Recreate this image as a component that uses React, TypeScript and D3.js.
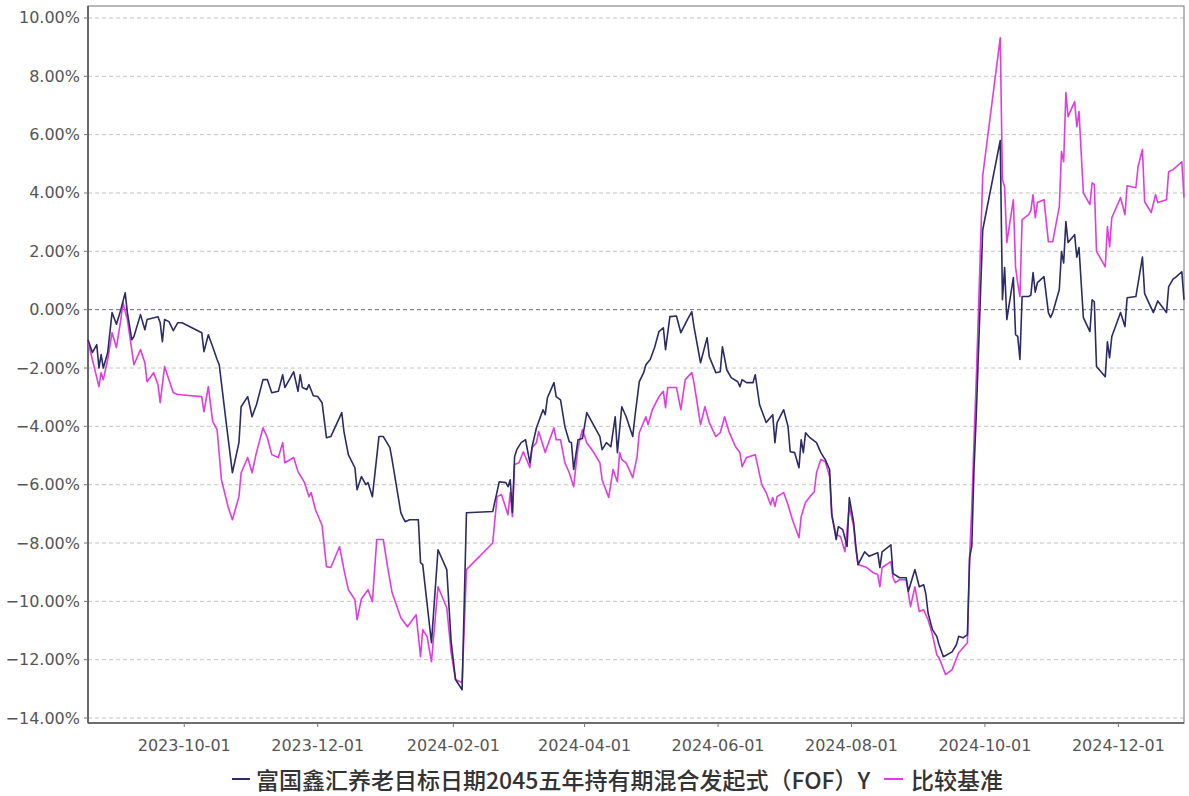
import React, { useEffect } from "react";
import * as d3 from "d3";

// ---------- DATA ----------
const seriesNames = ["富国鑫汇养老目标日期2045五年持有期混合发起式（FOF）Y", "比较基准"];
const seriesColors = ["#2b2b66", "#e03ce0"];

const fundSeries: [string, number][] = [
  ["2023-08-18", -1.03], ["2023-08-20", -1.47], ["2023-08-22", -1.2], ["2023-08-23", -2.0],
  ["2023-08-24", -1.54], ["2023-08-25", -2.0], ["2023-08-27", -1.47], ["2023-08-29", -0.1],
  ["2023-08-31", -0.5], ["2023-09-02", 0.0], ["2023-09-04", 0.58], ["2023-09-05", -0.1],
  ["2023-09-07", -1.03], ["2023-09-08", -0.92], ["2023-09-11", -0.17], ["2023-09-13", -0.69],
  ["2023-09-14", -0.34], ["2023-09-19", -0.24], ["2023-09-20", -0.45], ["2023-09-21", -1.1],
  ["2023-09-22", -0.34], ["2023-09-24", -0.41], ["2023-09-26", -0.72], ["2023-09-28", -0.45],
  ["2023-09-30", -0.45], ["2023-10-09", -0.79], ["2023-10-10", -1.44], ["2023-10-12", -0.86],
  ["2023-10-14", -1.27], ["2023-10-16", -1.71], ["2023-10-17", -1.89], ["2023-10-20", -3.77],
  ["2023-10-23", -5.59], ["2023-10-26", -4.56], ["2023-10-27", -3.33], ["2023-10-30", -2.98],
  ["2023-11-01", -3.67], ["2023-11-03", -3.26], ["2023-11-06", -2.4], ["2023-11-08", -2.4],
  ["2023-11-10", -2.85], ["2023-11-13", -2.8], ["2023-11-15", -2.23], ["2023-11-16", -2.67],
  ["2023-11-20", -2.13], ["2023-11-22", -2.8], ["2023-11-23", -2.23], ["2023-11-24", -2.67],
  ["2023-11-26", -2.74], ["2023-11-27", -2.57], ["2023-11-29", -2.95], ["2023-12-01", -2.98],
  ["2023-12-03", -3.19], ["2023-12-05", -4.39], ["2023-12-07", -4.35], ["2023-12-12", -3.53],
  ["2023-12-13", -4.18], ["2023-12-15", -4.97], ["2023-12-18", -5.42], ["2023-12-19", -6.17],
  ["2023-12-21", -5.72], ["2023-12-23", -6.0], ["2023-12-24", -5.93], ["2023-12-26", -6.41],
  ["2023-12-29", -4.35], ["2023-12-31", -4.35], ["2024-01-03", -4.73], ["2024-01-04", -5.14],
  ["2024-01-08", -6.96], ["2024-01-09", -7.13], ["2024-01-10", -7.27], ["2024-01-12", -7.2],
  ["2024-01-16", -7.2], ["2024-01-17", -8.67], ["2024-01-18", -8.74], ["2024-01-22", -11.42],
  ["2024-01-25", -8.23], ["2024-01-29", -8.91], ["2024-01-31", -11.38], ["2024-02-02", -12.68],
  ["2024-02-05", -13.03], ["2024-02-07", -6.96], ["2024-02-19", -6.92], ["2024-02-21", -6.24],
  ["2024-02-22", -5.9], ["2024-02-25", -5.93], ["2024-02-26", -6.07], ["2024-02-27", -5.83],
  ["2024-02-28", -6.96], ["2024-02-29", -5.04], ["2024-03-01", -4.8], ["2024-03-03", -4.56],
  ["2024-03-05", -4.46], ["2024-03-07", -5.25], ["2024-03-08", -4.7], ["2024-03-10", -4.05],
  ["2024-03-13", -3.43], ["2024-03-14", -3.6], ["2024-03-15", -3.02], ["2024-03-18", -2.5],
  ["2024-03-19", -2.98], ["2024-03-21", -3.09], ["2024-03-23", -4.01], ["2024-03-25", -4.53],
  ["2024-03-26", -4.56], ["2024-03-27", -5.48], ["2024-03-29", -4.46], ["2024-03-31", -4.42],
  ["2024-04-02", -3.53], ["2024-04-03", -3.67], ["2024-04-08", -4.35], ["2024-04-09", -4.8],
  ["2024-04-11", -4.56], ["2024-04-13", -4.7], ["2024-04-15", -3.67], ["2024-04-16", -4.9],
  ["2024-04-18", -3.33], ["2024-04-20", -3.67], ["2024-04-23", -4.35], ["2024-04-24", -3.67],
  ["2024-04-26", -2.47], ["2024-04-28", -2.16], ["2024-04-29", -1.89], ["2024-05-01", -1.71],
  ["2024-05-03", -1.3], ["2024-05-05", -0.75], ["2024-05-07", -0.62], ["2024-05-08", -1.37],
  ["2024-05-10", -0.24], ["2024-05-13", -0.22], ["2024-05-15", -0.79], ["2024-05-18", -0.34],
  ["2024-05-20", -0.07], ["2024-05-21", -0.58], ["2024-05-24", -1.82], ["2024-05-27", -0.96],
  ["2024-05-28", -1.61], ["2024-05-31", -2.16], ["2024-06-02", -2.13], ["2024-06-03", -1.27],
  ["2024-06-05", -2.06], ["2024-06-07", -2.33], ["2024-06-10", -2.47], ["2024-06-11", -2.64],
  ["2024-06-12", -2.4], ["2024-06-14", -2.5], ["2024-06-17", -2.5], ["2024-06-18", -2.23],
  ["2024-06-20", -3.26], ["2024-06-23", -3.87], ["2024-06-26", -3.6], ["2024-06-27", -4.56],
  ["2024-06-28", -3.87], ["2024-07-01", -3.43], ["2024-07-03", -4.01], ["2024-07-04", -4.87],
  ["2024-07-06", -4.9], ["2024-07-08", -5.42], ["2024-07-09", -4.46], ["2024-07-10", -4.9],
  ["2024-07-11", -4.22], ["2024-07-13", -4.39], ["2024-07-16", -4.56], ["2024-07-18", -4.9],
  ["2024-07-20", -5.14], ["2024-07-22", -5.48], ["2024-07-23", -7.0], ["2024-07-25", -7.88],
  ["2024-07-26", -7.44], ["2024-07-28", -7.54], ["2024-07-30", -8.12], ["2024-07-31", -6.44],
  ["2024-08-02", -7.3], ["2024-08-03", -8.12], ["2024-08-04", -8.74], ["2024-08-07", -8.3],
  ["2024-08-09", -8.45], ["2024-08-13", -8.33], ["2024-08-14", -8.84], ["2024-08-15", -8.3],
  ["2024-08-19", -8.06], ["2024-08-20", -9.05], ["2024-08-23", -9.19], ["2024-08-26", -9.19],
  ["2024-08-27", -9.65], ["2024-08-30", -8.91], ["2024-09-01", -9.5], ["2024-09-03", -9.43],
  ["2024-09-04", -9.75], ["2024-09-05", -10.4], ["2024-09-07", -10.97], ["2024-09-09", -11.2],
  ["2024-09-10", -11.48], ["2024-09-12", -11.9], ["2024-09-16", -11.73], ["2024-09-18", -11.48],
  ["2024-09-19", -11.2], ["2024-09-21", -11.25], ["2024-09-23", -11.14], ["2024-09-24", -8.5],
  ["2024-09-25", -8.1], ["2024-09-26", -5.5], ["2024-09-27", -3.7], ["2024-09-30", 2.74],
  ["2024-10-08", 5.8], ["2024-10-09", 0.34], ["2024-10-10", 1.44], ["2024-10-11", -0.34],
  ["2024-10-14", 1.1], ["2024-10-15", -0.86], ["2024-10-16", -0.92], ["2024-10-17", -1.71],
  ["2024-10-18", 0.45], ["2024-10-21", 0.45], ["2024-10-22", 0.5], ["2024-10-23", 1.27],
  ["2024-10-24", 0.6], ["2024-10-25", 0.93], ["2024-10-28", 1.13], ["2024-10-30", -0.1],
  ["2024-10-31", -0.27], ["2024-11-01", -0.1], ["2024-11-04", 0.69], ["2024-11-05", 1.99],
  ["2024-11-06", 1.6], ["2024-11-07", 3.02], ["2024-11-08", 2.3], ["2024-11-11", 2.57],
  ["2024-11-12", 1.8], ["2024-11-13", 2.13], ["2024-11-15", -0.27], ["2024-11-18", -0.75],
  ["2024-11-19", 0.34], ["2024-11-20", 0.27], ["2024-11-21", -1.95], ["2024-11-25", -2.3],
  ["2024-11-26", -1.1], ["2024-11-27", -1.65], ["2024-11-28", -0.92], ["2024-12-02", -0.1],
  ["2024-12-04", -0.58], ["2024-12-05", 0.41], ["2024-12-09", 0.45], ["2024-12-12", 1.8],
  ["2024-12-13", 0.55], ["2024-12-17", -0.1], ["2024-12-19", 0.3], ["2024-12-23", -0.1],
  ["2024-12-24", 0.79], ["2024-12-26", 1.05], ["2024-12-27", 1.1], ["2024-12-30", 1.3],
  ["2024-12-31", 0.34],
];

const benchSeries: [string, number][] = [
  ["2023-08-18", -1.1], ["2023-08-20", -1.71], ["2023-08-23", -2.64], ["2023-08-24", -2.16],
  ["2023-08-25", -2.4], ["2023-08-27", -1.71], ["2023-08-29", -0.79], ["2023-08-31", -1.3],
  ["2023-09-02", -0.34], ["2023-09-03", 0.24], ["2023-09-05", -0.34], ["2023-09-07", -1.37],
  ["2023-09-08", -1.89], ["2023-09-11", -1.37], ["2023-09-13", -1.82], ["2023-09-14", -2.47],
  ["2023-09-17", -2.16], ["2023-09-19", -2.57], ["2023-09-20", -3.19], ["2023-09-22", -1.95],
  ["2023-09-24", -2.4], ["2023-09-26", -2.85], ["2023-09-28", -2.91], ["2023-10-09", -2.98],
  ["2023-10-10", -3.5], ["2023-10-12", -2.64], ["2023-10-14", -3.84], ["2023-10-16", -4.11],
  ["2023-10-18", -5.83], ["2023-10-21", -6.75], ["2023-10-23", -7.2], ["2023-10-26", -6.41],
  ["2023-10-27", -5.59], ["2023-10-30", -5.07], ["2023-11-01", -5.59], ["2023-11-03", -4.9],
  ["2023-11-06", -4.05], ["2023-11-08", -4.39], ["2023-11-10", -4.97], ["2023-11-13", -5.07],
  ["2023-11-15", -4.56], ["2023-11-16", -5.25], ["2023-11-20", -5.07], ["2023-11-22", -5.55],
  ["2023-11-25", -5.93], ["2023-11-27", -6.41], ["2023-11-28", -6.27], ["2023-11-30", -6.86],
  ["2023-12-03", -7.4], ["2023-12-05", -8.81], ["2023-12-07", -8.84], ["2023-12-11", -8.12],
  ["2023-12-13", -8.91], ["2023-12-15", -9.6], ["2023-12-18", -9.94], ["2023-12-19", -10.63],
  ["2023-12-21", -9.91], ["2023-12-24", -9.6], ["2023-12-26", -10.01], ["2023-12-28", -7.88],
  ["2023-12-31", -7.88], ["2024-01-02", -8.84], ["2024-01-04", -9.7], ["2024-01-08", -10.56],
  ["2024-01-11", -10.87], ["2024-01-15", -10.46], ["2024-01-17", -11.9], ["2024-01-18", -10.97],
  ["2024-01-20", -11.21], ["2024-01-22", -12.07], ["2024-01-25", -9.5], ["2024-01-29", -10.22],
  ["2024-01-31", -11.76], ["2024-02-02", -12.68], ["2024-02-05", -12.79], ["2024-02-07", -8.91],
  ["2024-02-19", -8.0], ["2024-02-21", -6.41], ["2024-02-23", -6.34], ["2024-02-26", -7.03],
  ["2024-02-27", -6.27], ["2024-02-28", -7.1], ["2024-02-29", -5.31], ["2024-03-02", -5.25],
  ["2024-03-04", -4.87], ["2024-03-07", -5.42], ["2024-03-08", -4.73], ["2024-03-10", -4.56],
  ["2024-03-11", -4.18], ["2024-03-14", -4.9], ["2024-03-16", -4.46], ["2024-03-18", -4.05],
  ["2024-03-19", -4.46], ["2024-03-21", -4.46], ["2024-03-23", -5.25], ["2024-03-25", -5.59],
  ["2024-03-27", -6.07], ["2024-03-28", -5.38], ["2024-03-29", -4.73], ["2024-03-31", -4.11],
  ["2024-04-02", -4.56], ["2024-04-05", -4.87], ["2024-04-08", -5.25], ["2024-04-09", -5.83],
  ["2024-04-12", -6.44], ["2024-04-14", -5.48], ["2024-04-16", -5.9], ["2024-04-17", -4.9],
  ["2024-04-18", -5.14], ["2024-04-20", -5.25], ["2024-04-23", -5.76], ["2024-04-25", -5.04],
  ["2024-04-26", -4.22], ["2024-04-29", -3.67], ["2024-04-30", -3.94], ["2024-05-02", -3.43],
  ["2024-05-05", -2.98], ["2024-05-07", -2.8], ["2024-05-08", -3.36], ["2024-05-09", -2.67],
  ["2024-05-13", -2.67], ["2024-05-15", -3.43], ["2024-05-17", -2.4], ["2024-05-20", -2.16],
  ["2024-05-21", -2.5], ["2024-05-24", -3.94], ["2024-05-26", -3.33], ["2024-05-28", -3.87],
  ["2024-05-31", -4.35], ["2024-06-02", -4.22], ["2024-06-04", -3.67], ["2024-06-06", -4.18],
  ["2024-06-09", -4.7], ["2024-06-11", -4.9], ["2024-06-12", -5.38], ["2024-06-14", -5.07],
  ["2024-06-18", -4.97], ["2024-06-21", -6.0], ["2024-06-23", -6.27], ["2024-06-25", -6.69],
  ["2024-06-26", -6.44], ["2024-06-27", -6.75], ["2024-06-28", -6.41], ["2024-07-01", -6.27],
  ["2024-07-03", -6.69], ["2024-07-05", -7.2], ["2024-07-08", -7.82], ["2024-07-09", -7.1],
  ["2024-07-11", -6.6], ["2024-07-13", -6.41], ["2024-07-15", -6.24], ["2024-07-16", -5.59],
  ["2024-07-18", -5.14], ["2024-07-20", -5.21], ["2024-07-22", -5.72], ["2024-07-23", -7.1],
  ["2024-07-25", -7.71], ["2024-07-27", -7.78], ["2024-07-29", -8.3], ["2024-07-31", -6.75],
  ["2024-08-02", -7.44], ["2024-08-03", -8.23], ["2024-08-04", -8.74], ["2024-08-08", -8.84],
  ["2024-08-11", -9.02], ["2024-08-13", -9.08], ["2024-08-14", -9.5], ["2024-08-15", -8.84],
  ["2024-08-19", -8.64], ["2024-08-20", -9.19], ["2024-08-21", -9.36], ["2024-08-23", -9.26],
  ["2024-08-26", -9.26], ["2024-08-28", -10.18], ["2024-08-30", -9.5], ["2024-09-01", -10.35],
  ["2024-09-03", -10.29], ["2024-09-05", -10.63], ["2024-09-07", -11.14], ["2024-09-09", -11.83],
  ["2024-09-10", -11.93], ["2024-09-13", -12.51], ["2024-09-16", -12.34], ["2024-09-19", -11.76],
  ["2024-09-23", -11.42], ["2024-09-24", -8.5], ["2024-09-25", -6.75], ["2024-09-26", -4.5],
  ["2024-09-27", -2.5], ["2024-09-30", 4.6], ["2024-10-08", 9.32], ["2024-10-09", 4.46],
  ["2024-10-10", 4.2], ["2024-10-11", 2.3], ["2024-10-14", 3.77], ["2024-10-15", 1.47],
  ["2024-10-16", 0.9], ["2024-10-17", 0.45], ["2024-10-18", 3.09], ["2024-10-21", 3.26],
  ["2024-10-22", 3.4], ["2024-10-23", 3.94], ["2024-10-24", 3.15], ["2024-10-25", 3.67],
  ["2024-10-28", 3.77], ["2024-10-30", 2.33], ["2024-10-31", 2.33], ["2024-11-01", 2.33],
  ["2024-11-04", 3.53], ["2024-11-05", 5.42], ["2024-11-06", 5.07], ["2024-11-07", 7.44],
  ["2024-11-08", 6.62], ["2024-11-11", 7.13], ["2024-11-12", 6.27], ["2024-11-13", 6.79],
  ["2024-11-15", 4.0], ["2024-11-18", 3.6], ["2024-11-19", 4.35], ["2024-11-20", 4.29],
  ["2024-11-21", 2.0], ["2024-11-25", 1.47], ["2024-11-26", 2.85], ["2024-11-27", 2.16],
  ["2024-11-28", 3.15], ["2024-12-02", 3.84], ["2024-12-04", 3.26], ["2024-12-05", 4.25],
  ["2024-12-09", 4.18], ["2024-12-10", 4.9], ["2024-12-12", 5.49], ["2024-12-13", 3.7],
  ["2024-12-16", 3.33], ["2024-12-18", 3.94], ["2024-12-19", 3.67], ["2024-12-23", 3.77],
  ["2024-12-24", 4.73], ["2024-12-26", 4.8], ["2024-12-30", 5.07], ["2024-12-31", 3.84],
];

const xTickDates = [
  "2023-10-01", "2023-12-01", "2024-02-01", "2024-04-01",
  "2024-06-01", "2024-08-01", "2024-10-01", "2024-12-01",
];
const yTickValues = [-14, -12, -10, -8, -6, -4, -2, 0, 2, 4, 6, 8, 10];
const xDomain = ["2023-08-18", "2024-12-31"];
const yDomain = [-14.17, 10.41];

// ---------- LAYOUT ----------
const W = 1189;
const H = 796;
const PL = 88;
const PR = 1184;
const PT = 6;
const PB = 723;

const parse = d3.timeParse("%Y-%m-%d");
const fmtPct = (v: number) => d3.format(".2f")(v) + "%";
const numFont = "'DejaVu Sans', Verdana, sans-serif";
const cjkFont = "'Noto Sans CJK SC', sans-serif";

export default function App() {
  useEffect(() => {
    document.body.style.margin = "0";
  }, []);

  const x = d3
    .scaleTime()
    .domain(xDomain.map((d) => parse(d) as Date))
    .range([PL, PR]);
  const y = d3.scaleLinear().domain(yDomain).range([PB, PT]);

  const line = d3
    .line<[string, number]>()
    .x((d) => x(parse(d[0]) as Date))
    .y((d) => y(d[1]));

  return (
    <div style={{ position: "absolute", left: 0, top: 0 }}>
      <svg width={W} height={H} style={{ display: "block", background: "#fff" }}>
        {/* gridlines */}
        {yTickValues.map((v) => (
          <line
            key={"g" + v}
            x1={PL}
            x2={PR}
            y1={y(v)}
            y2={y(v)}
            stroke={v === 0 ? "#6a6a7a" : "#c4c4c4"}
            strokeWidth={1}
            strokeDasharray="4 3"
          />
        ))}
        {/* frame */}
        <rect x={PL} y={PT} width={PR - PL} height={PB - PT} fill="none" stroke="#8a8a8a" strokeWidth={1.2} />
        <line x1={PL} x2={PL} y1={PT} y2={PB} stroke="#555" strokeWidth={1.6} />
        <line x1={PL} x2={PR} y1={PB} y2={PB} stroke="#555" strokeWidth={1.6} />

        {/* y ticks & labels */}
        {yTickValues.map((v) => (
          <g key={"y" + v}>
            <line x1={PL - 4} x2={PL} y1={y(v)} y2={y(v)} stroke="#777" strokeWidth={1} />
            <text
              x={80}
              y={y(v)}
              textAnchor="end"
              dominantBaseline="central"
              fontFamily={numFont}
              fontSize={16}
              fill="#555"
            >
              {fmtPct(v)}
            </text>
          </g>
        ))}

        {/* x ticks & labels */}
        {xTickDates.map((d) => {
          const xx = x(parse(d) as Date);
          return (
            <g key={"x" + d}>
              <line x1={xx} x2={xx} y1={PB} y2={PB + 4} stroke="#777" strokeWidth={1} />
              <text
                x={xx}
                y={751}
                textAnchor="middle"
                fontFamily={numFont}
                fontSize={16}
                fill="#555"
              >
                {d}
              </text>
            </g>
          );
        })}

        {/* lines: benchmark beneath, fund on top */}
        <path d={line(benchSeries) || ""} fill="none" stroke={seriesColors[1]} strokeWidth={1.6} strokeLinejoin="round" />
        <path d={line(fundSeries) || ""} fill="none" stroke={seriesColors[0]} strokeWidth={1.6} strokeLinejoin="round" />

        {/* legend */}
        <g>
          <line x1={232} x2={250} y1={779} y2={779} stroke={seriesColors[0]} strokeWidth={2} />
          <text
            x={256}
            y={779}
            dominantBaseline="central"
            fontFamily={cjkFont}
            fontSize={23}
            fontWeight={500}
            fill="#333"
          >
            {seriesNames[0]}
          </text>
          <line x1={884} x2={903} y1={779} y2={779} stroke={seriesColors[1]} strokeWidth={2} />
          <text
            x={911}
            y={779}
            dominantBaseline="central"
            fontFamily={cjkFont}
            fontSize={23}
            fontWeight={500}
            fill="#333"
          >
            {seriesNames[1]}
          </text>
        </g>
      </svg>
    </div>
  );
}
